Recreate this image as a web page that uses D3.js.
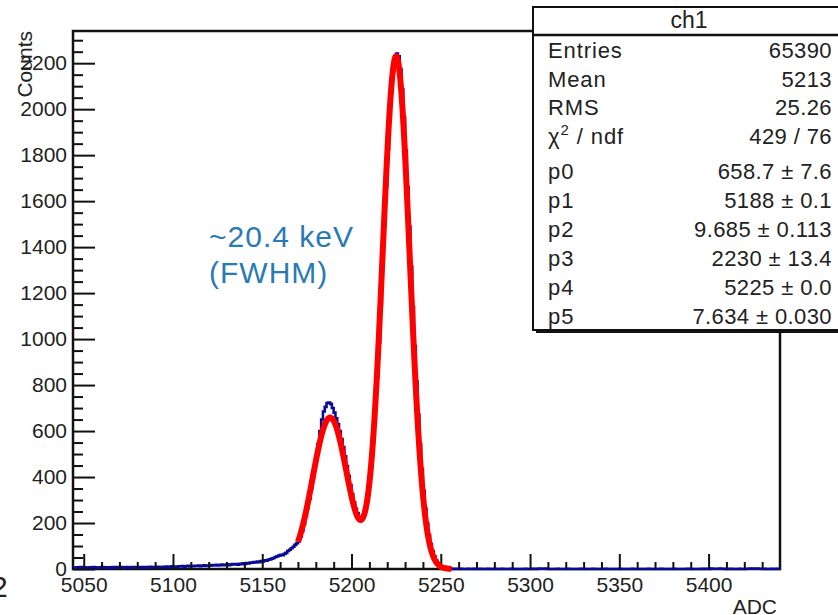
<!DOCTYPE html>
<html>
<head>
<meta charset="utf-8">
<script src="https://cdn.jsdelivr.net/npm/d3@7"></script>
<style>
    body { margin: 0; background: #fff; }
    svg { display: block; }
    svg text { font-family: "Liberation Sans", Arial, sans-serif; }
</style>
</head>
<body>
<div id="chart_frame"></div>
<script>
// histogram ch1 : 1 ADC per bin, first bin starts at 5044
const binStart = 5044
const binWidth = 1
const counts = [
    6, 5, 7, 6, 8, 5, 7, 6, 5, 7,
    6, 8, 7, 5, 6, 7, 8, 6, 7, 5,
    7, 6, 8, 7, 9, 6, 7, 8, 6, 7,
    8, 7, 6, 9, 8, 7, 8, 6, 9, 8,
    7, 9, 8, 10, 7, 9, 8, 10, 9, 8,
    10, 9, 11, 8, 10, 12, 9, 11, 10, 12,
    11, 13, 10, 12, 14, 11, 13, 12, 14, 13,
    15, 12, 14, 16, 13, 15, 14, 17, 15, 16,
    18, 15, 17, 19, 16, 18, 20, 17, 19, 21,
    20, 22, 19, 23, 21, 25, 22, 26, 24, 28,
    27, 30, 28, 32, 30, 35, 33, 38, 36, 40,
    42, 45, 48, 52, 55, 58, 62, 60, 66, 70,
    78, 84, 90, 97, 105, 112, 120, 140, 165, 195,
    230, 265, 305, 350, 395, 445, 495, 545, 600, 650,
    685, 705, 722, 724, 718, 700, 680, 655, 630, 600,
    565, 530, 490, 448, 405, 365, 325, 290, 262, 242,
    226, 222, 232, 255, 290, 340, 405, 490, 590, 705,
    835, 985, 1150, 1320, 1495, 1665, 1825, 1965, 2085, 2170,
    2225, 2242, 2230, 2175, 2085, 1965, 1820, 1660, 1490, 1315,
    1140, 970, 815, 672, 545, 435, 340, 262, 198, 148,
    108, 78, 55, 38, 25, 16, 10, 6, 4, 2,
    1, 2, 1, 0, 1, 0, 0, 1, 0, 0,
    0, 1, 0, 0, 1, 0, 0, 0, 1, 0,
    0, 0, 1, 0, 0, 0, 1, 0, 0, 0,
    1, 0, 0, 0, 0, 1, 0, 0, 0, 0,
    0, 0, 0, 1, 0, 0, 0, 1, 1, 0,
    1, 2, 1, 1, 2, 1, 0, 0, 0, 0,
    0, 1, 0, 0, 0, 0, 0, 1, 0, 0,
    0, 0, 0, 0, 1, 0, 0, 0, 0, 0,
    0, 1, 0, 0, 0, 0, 0, 0, 1, 0,
    0, 0, 0, 0, 0, 0, 1, 0, 0, 0,
    0, 0, 0, 1, 0, 0, 0, 0, 0, 0,
    0, 0, 1, 0, 0, 0, 0, 0, 0, 1,
    0, 0, 0, 0, 0, 0, 1, 0, 0, 0,
    0, 0, 0, 0, 1, 0, 0, 0, 0, 0,
    0, 0, 1, 0, 1, 1, 0, 2, 1, 1,
    1, 1, 2, 1, 1, 0, 0, 0, 1, 0,
    0, 0, 0, 1, 0, 0, 0, 1, 1, 2,
    2, 1, 2, 2, 1, 1, 0, 1, 0, 0,
    0, 1, 0, 0, 1, 0
]

// double gaussian fit, parameters as printed in the stats box
const fitParams = [658.7, 5188, 9.685, 2230, 5225, 7.634]
const fitRange = [5170, 5256]

const xMajorTicks = [5050, 5100, 5150, 5200, 5250, 5300, 5350, 5400]
const yMajorTicks = [0, 200, 400, 600, 800, 1000, 1200, 1400, 1600, 1800, 2000, 2200]

const statNames = ["Entries", "Mean", "RMS", "chi2", "p0", "p1", "p2", "p3", "p4", "p5"]
const statValues = ["65390", "5213", "25.26", "429 / 76", "658.7 \u00b1 7.6", "5188 \u00b1 0.1",
    "9.685 \u00b1 0.113", "2230 \u00b1 13.4", "5225 \u00b1 0.0", "7.634 \u00b1 0.030"]

function styleText(sel, size) {
    sel.attr("font-family", "Liberation Sans, Arial, sans-serif")
        .attr("font-size", size)
        .style("font-size", size + "px")
        .attr("fill", "#222")
}

function renderHisto(frame_id) {
    let width = 838
    let height = 615
    let left = 73, right = 780, top = 31, bottom = 569

    var svg = d3.select("#" + frame_id)
        .append("svg")
        .attr("width", width)
        .attr("height", height)

    var x = d3.scaleLinear().domain([5044, 5440]).range([left, right])
    var y = d3.scaleLinear().domain([0, 2340]).range([bottom, top])

    // frame
    svg.append("rect")
        .attr("x", left).attr("y", top)
        .attr("width", right - left).attr("height", bottom - top)
        .attr("fill", "none")
        .attr("stroke", "#111")
        .attr("stroke-width", 2.5)

    // histogram as steps
    var pts = counts.map((c, i) => [binStart + i * binWidth, c])
    pts.push([binStart + counts.length * binWidth, counts[counts.length - 1]])
    var step = d3.line()
        .x(d => x(d[0]))
        .y(d => y(d[1]))
        .curve(d3.curveStepAfter)

    svg.append("path")
        .attr("d", step(pts))
        .attr("fill", "none")
        .attr("stroke", "#0a0a96")
        .attr("stroke-width", 2.6)

    // x axis ticks (pointing inwards)
    var xMinor = d3.range(5050, 5440, 10).filter(v => !xMajorTicks.includes(v))
    svg.append("g")
        .attr("transform", "translate(0," + bottom + ")")
        .call(d3.axisBottom(x).tickValues(xMinor).tickSize(-7).tickFormat(""))
        .call(g => g.select(".domain").remove())
        .call(g => g.selectAll("line").attr("stroke", "#111").attr("stroke-width", 2))

    svg.append("g")
        .attr("transform", "translate(0," + bottom + ")")
        .call(d3.axisBottom(x).tickValues(xMajorTicks).tickSize(-15).tickPadding(8).tickFormat(d3.format("d")))
        .call(g => g.select(".domain").remove())
        .call(g => g.selectAll("line").attr("stroke", "#111").attr("stroke-width", 2))
        .call(g => styleText(g.selectAll("text"), 21))

    // y axis ticks
    var yMinor = d3.range(50, 2340, 50).filter(v => !yMajorTicks.includes(v))
    svg.append("g")
        .attr("transform", "translate(" + left + ",0)")
        .call(d3.axisLeft(y).tickValues(yMinor).tickSize(-10).tickFormat(""))
        .call(g => g.select(".domain").remove())
        .call(g => g.selectAll("line").attr("stroke", "#111").attr("stroke-width", 2))

    svg.append("g")
        .attr("transform", "translate(" + left + ",0)")
        .call(d3.axisLeft(y).tickValues(yMajorTicks).tickSize(-22).tickPadding(6).tickFormat(d3.format("d")))
        .call(g => g.select(".domain").remove())
        .call(g => g.selectAll("line").attr("stroke", "#111").attr("stroke-width", 2))
        .call(g => styleText(g.selectAll("text").attr("x", -6), 21))

    // fit curve
    let p = fitParams
    var fitPts = d3.range(fitRange[0], fitRange[1] + 0.01, 0.25).map(v => [v,
        p[0] * Math.exp(-0.5 * ((v - p[1]) / p[2]) ** 2) +
        p[3] * Math.exp(-0.5 * ((v - p[4]) / p[5]) ** 2)])

    svg.append("path")
        .attr("d", d3.line().x(d => x(d[0])).y(d => y(d[1])).curve(d3.curveLinear)(fitPts))
        .attr("fill", "none")
        .attr("stroke", "#ff0000")
        .attr("stroke-width", 6)
        .attr("stroke-linejoin", "round")

    // axis titles
    svg.append("text")
        .attr("transform", "translate(32," + top + ") rotate(-90)")
        .attr("text-anchor", "end")
        .call(t => styleText(t, 21))
        .text("Counts")

    svg.append("text")
        .attr("x", 777).attr("y", 614)
        .attr("text-anchor", "end")
        .call(t => styleText(t, 21))
        .text("ADC")

    svg.append("text")
        .attr("x", -9).attr("y", 597)
        .call(t => styleText(t, 30))
        .text("2")

    // annotation
    svg.append("text")
        .attr("x", 209).attr("y", 247)
        .call(t => styleText(t, 30))
        .attr("fill", "#2a7ab4")
        .attr("letter-spacing", 1)
        .text("~20.4 keV")
    svg.append("text")
        .attr("x", 209).attr("y", 283)
        .call(t => styleText(t, 30))
        .attr("fill", "#2a7ab4")
        .attr("letter-spacing", 1)
        .text("(FWHM)")

    renderStats(svg)
}

function renderStats(svg) {
    let bx = 533, by = 7, bw = 320, bh = 323
    let rowY = [58, 87, 115, 144, 179, 208, 237, 266, 295, 324]

    svg.append("rect")
        .attr("x", bx + 3).attr("y", by + 3)
        .attr("width", bw).attr("height", bh)
        .attr("fill", "#111")
    svg.append("rect")
        .attr("x", bx).attr("y", by)
        .attr("width", bw).attr("height", bh)
        .attr("fill", "#fff")
        .attr("stroke", "#111")
        .attr("stroke-width", 2)
    svg.append("line")
        .attr("x1", bx).attr("x2", bx + bw)
        .attr("y1", 35).attr("y2", 35)
        .attr("stroke", "#111")
        .attr("stroke-width", 2.5)

    svg.append("text")
        .attr("x", 689).attr("y", 28)
        .attr("text-anchor", "middle")
        .call(t => styleText(t, 23))
        .text("ch1")

    var names = svg.selectAll("text.statname")
        .data(statNames)
        .enter()
        .append("text")
        .attr("class", "statname")
        .attr("x", 548)
        .attr("y", (d, i) => rowY[i])
        .call(t => styleText(t, 22))
        .attr("letter-spacing", 0.9)

    names.each(function (d) {
        let t = d3.select(this)
        if (d === "chi2") {
            t.append("tspan").text("\u03c7")
            t.append("tspan").attr("dy", -9).style("font-size", "15px").text("2")
            t.append("tspan").attr("dy", 9).text(" / ndf")
        } else {
            t.text(d)
        }
    })

    svg.selectAll("text.statval")
        .data(statValues)
        .enter()
        .append("text")
        .attr("class", "statval")
        .attr("x", 832)
        .attr("y", (d, i) => rowY[i])
        .attr("text-anchor", "end")
        .call(t => styleText(t, 22))
        .attr("letter-spacing", 0.4)
        .text(d => d)
}

renderHisto("chart_frame")
</script>
</body>
</html>
